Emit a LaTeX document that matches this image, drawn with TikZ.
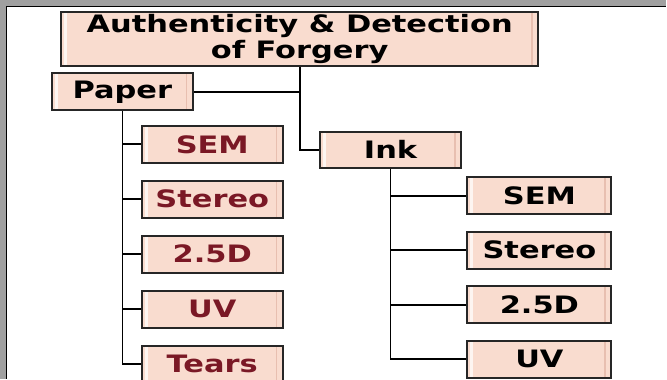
\documentclass[tikz,border=0pt]{standalone}
\usepackage{fontspec}
\setsansfont{DejaVu Sans}[FakeStretch=1.27]
\usetikzlibrary{positioning}
\definecolor{boxfill}{HTML}{F9DCCF}
\definecolor{boxedge}{HTML}{E8BFB0}
\definecolor{darkred}{HTML}{7A1825}
\definecolor{framegray}{HTML}{A0A0A0}
\tikzset{
	tbox/.style={draw=black!85, fill=boxfill, line width=2pt, align=center,
		font=\sffamily\bfseries\fontsize{24}{26}\selectfont, inner sep=0pt,
		path picture={
			\fill[white!70!boxfill] ([xshift=3pt]path picture bounding box.south west)
				rectangle ([xshift=6pt]path picture bounding box.north west);
			\fill[boxedge] ([xshift=-7pt]path picture bounding box.south east)
				rectangle ([xshift=-5.5pt]path picture bounding box.north east);
		}},
	headbox/.style={tbox, minimum width=141pt, minimum height=37pt},
	leafp/.style={tbox, text=darkred, minimum width=141pt, minimum height=37pt},
	leafi/.style={tbox, minimum width=144pt, minimum height=37pt},
	conn/.style={line width=1.7pt, draw=black}
}

\begin{document}
\begin{tikzpicture}[x=1pt, y=1pt]
	% frame
	\fill[framegray] (0,0) rectangle (667,379);
	\fill[white] (6.5,0) rectangle (667,372.5);
	\draw[line width=1.5pt] (6.5,0) -- (6.5,372.5) -- (667,372.5);
	\useasboundingbox (0,0) rectangle (667,379);

	\node[tbox, minimum width=478pt, minimum height=54pt, inner ysep=2pt] (title) at (300,340)
		{Authenticity \& Detection\\of Forgery\rule[-4pt]{0pt}{4pt}};
	\node[headbox] (paper) at (122.5,287) {Paper};
	\node[headbox, minimum width=142pt, minimum height=36pt] (ink) at (391,229) {Ink};

	% paper branch
	\node[leafp] (psem) at (212.5,234.5) {SEM};
	\node[leafp, below=16pt of psem] (pstereo) {Stereo};
	\node[leafp, below=16pt of pstereo] (pdepth) {2.5D};
	\node[leafp, below=16pt of pdepth] (puv) {UV};
	\node[leafp, below=16pt of puv] (ptears) {Tears};

	% ink branch
	\node[leafi] (isem) at (540,183) {SEM};
	\node[leafi, below=15.5pt of isem] (istereo) {Stereo};
	\node[leafi, below=15.5pt of istereo] (idepth) {2.5D};
	\node[leafi, below=15.5pt of idepth] (iuv) {UV};

	\draw[conn] (title.south) |- (ink.west);
	\draw[conn] (paper.east) -- (paper.east -| title.south);
	\draw[conn] (paper.south) |- (psem.west);
	\draw[conn] (paper.south) |- (pstereo.west);
	\draw[conn] (paper.south) |- (pdepth.west);
	\draw[conn] (paper.south) |- (puv.west);
	\draw[conn] (paper.south) |- (ptears.west);
	\draw[conn] (ink.south) |- (isem.west);
	\draw[conn] (ink.south) |- (istereo.west);
	\draw[conn] (ink.south) |- (idepth.west);
	\draw[conn] (ink.south) |- (iuv.west);
\end{tikzpicture}
\end{document}
